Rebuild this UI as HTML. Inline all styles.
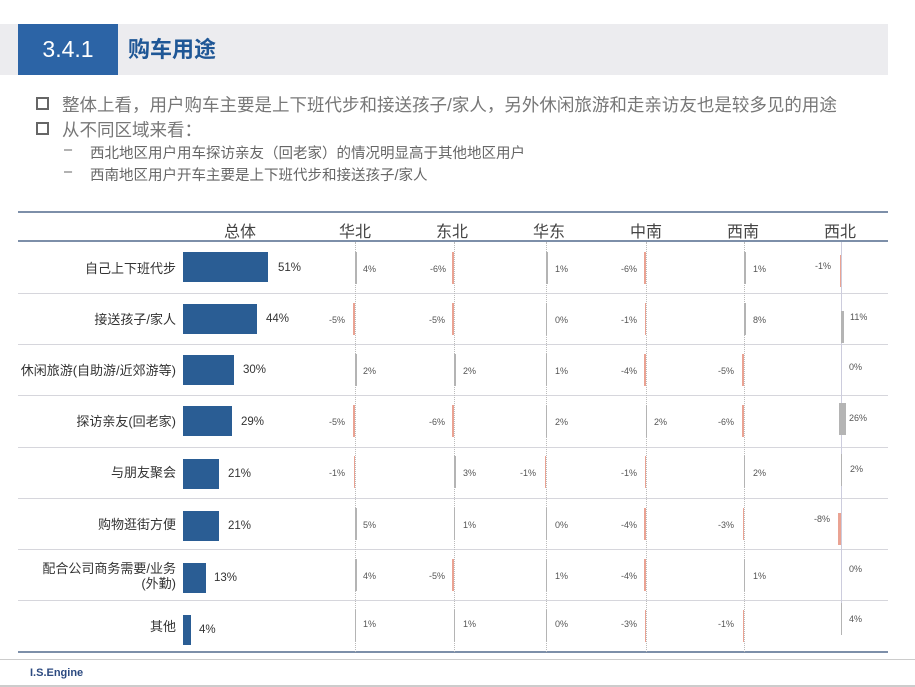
<!DOCTYPE html>
<html><head><meta charset="utf-8"><style>
body{margin:0;width:915px;height:687px;background:#fff;position:relative;overflow:hidden;font-family:"Liberation Sans","Noto Sans CJK SC",sans-serif}
div,i,s,u,b{position:absolute;display:block;text-decoration:none;font-style:normal}
.hl{left:18px;width:870px;height:1px;background:#d6d6dc}
.ax{top:242px;height:410px;width:0;border-left:1px dotted #bbb}
.lab{left:0;width:176px;text-align:right;font-size:13px;color:#333;line-height:15px}
.mb{left:183px;height:30px;background:#2a5d94}
.mv{font-size:11.5px;color:#333}
i{height:32px}
i.g{background:#b4b4b4}
i.r{background:#eaa393}
s,u{font-size:9px;color:#555;line-height:10px}
u{width:40px;text-align:right}
.ch{top:218px;font-size:16px;color:#444;width:60px;text-align:center}
</style></head><body>
<div style="left:0;top:24px;width:888px;height:51px;background:#ececef"></div>
<div style="left:18px;top:24px;width:100px;height:51px;background:#2c64a6;color:#fff;font-size:23px;line-height:51px;text-align:center">3.4.1</div>
<div style="left:128px;top:24px;line-height:51px;font-size:22px;color:#1f5796;font-weight:bold">购车用途</div>
<div style="left:36px;top:97px;width:9px;height:9px;border:2px solid #666"></div>
<div style="left:62px;top:92px;font-size:17.5px;color:#777;white-space:nowrap">整体上看，用户购车主要是上下班代步和接送孩子/家人，另外休闲旅游和走亲访友也是较多见的用途</div>
<div style="left:36px;top:122px;width:9px;height:9px;border:2px solid #666"></div>
<div style="left:62px;top:117px;font-size:17.5px;color:#777">从不同区域来看：</div>
<div style="left:64px;top:142px;font-size:14.5px;color:#666">–</div>
<div style="left:90px;top:142px;font-size:14.5px;color:#666;white-space:nowrap">西北地区用户用车探访亲友（回老家）的情况明显高于其他地区用户</div>
<div style="left:64px;top:164px;font-size:14.5px;color:#666">–</div>
<div style="left:90px;top:164px;font-size:14.5px;color:#666;white-space:nowrap">西南地区用户开车主要是上下班代步和接送孩子/家人</div>

<div style="left:18px;top:211px;width:870px;height:2px;background:#7d8fa9"></div>
<div style="left:18px;top:240px;width:870px;height:2px;background:#7d8fa9"></div>
<div style="left:18px;top:651px;width:870px;height:2px;background:#7d8fa9"></div>
<div style="left:0;top:659px;width:915px;height:1px;background:#ccc"></div>
<div style="left:30px;top:667px;font-size:11px;color:#2c4a80;font-weight:bold">I.S.Engine</div>
<div style="left:0;top:685px;width:915px;height:2px;background:#ccc"></div>

<div class="ch" style="left:210px">总体</div>
<div class="ch" style="left:325px">华北</div>
<div class="ch" style="left:422px">东北</div>
<div class="ch" style="left:519px">华东</div>
<div class="ch" style="left:616px">中南</div>
<div class="ch" style="left:713px">西南</div>
<div class="ch" style="left:810px">西北</div>

<div class="hl" style="top:293px"></div><div class="hl" style="top:344px"></div><div class="hl" style="top:395px"></div><div class="hl" style="top:447px"></div><div class="hl" style="top:498px"></div><div class="hl" style="top:549px"></div><div class="hl" style="top:600px"></div>

<div class="ax" style="left:355px"></div><div class="ax" style="left:454px"></div><div class="ax" style="left:546px"></div><div class="ax" style="left:646px"></div><div class="ax" style="left:744px"></div>
<div style="left:841px;top:242px;height:380px;width:1px;background:#ccd"></div>

<div class="lab" style="top:261px">自己上下班代步</div>
<div class="lab" style="top:312px">接送孩子/家人</div>
<div class="lab" style="top:363px">休闲旅游(自助游/近郊游等)</div>
<div class="lab" style="top:414px">探访亲友(回老家)</div>
<div class="lab" style="top:465px">与朋友聚会</div>
<div class="lab" style="top:517px">购物逛街方便</div>
<div class="lab" style="top:561px">配合公司商务需要/业务<br>(外勤)</div>
<div class="lab" style="top:619px">其他</div>

<div class="mb" style="top:252px;width:85px"></div><div class="mv" style="left:278px;top:262px">51%</div>
<div class="mb" style="top:304px;width:74px"></div><div class="mv" style="left:266px;top:313px">44%</div>
<div class="mb" style="top:355px;width:51px"></div><div class="mv" style="left:243px;top:364px">30%</div>
<div class="mb" style="top:406px;width:49px"></div><div class="mv" style="left:241px;top:416px">29%</div>
<div class="mb" style="top:459px;width:36px"></div><div class="mv" style="left:228px;top:468px">21%</div>
<div class="mb" style="top:511px;width:36px"></div><div class="mv" style="left:228px;top:520px">21%</div>
<div class="mb" style="top:563px;width:23px"></div><div class="mv" style="left:214px;top:572px">13%</div>
<div class="mb" style="top:615px;width:8px"></div><div class="mv" style="left:199px;top:624px">4%</div>

<i class="g" style="left:355px;top:252px;width:2px"></i><s style="left:363px;top:264px">4%</s>
<i class="r" style="left:452px;top:252px;width:2px"></i><u style="left:406px;top:264px">-6%</u>
<i class="g" style="left:546px;top:252px;width:2px"></i><s style="left:555px;top:264px">1%</s>
<i class="r" style="left:644px;top:252px;width:2px"></i><u style="left:597px;top:264px">-6%</u>
<i class="g" style="left:744px;top:252px;width:2px"></i><s style="left:753px;top:264px">1%</s>
<i class="r" style="left:840px;top:255px;width:1px"></i><u style="left:791px;top:261px">-1%</u>

<i class="r" style="left:353px;top:303px;width:2px"></i><u style="left:305px;top:315px">-5%</u>
<i class="r" style="left:452px;top:303px;width:2px"></i><u style="left:405px;top:315px">-5%</u>
<i class="g" style="left:546px;top:303px;width:1px"></i><s style="left:555px;top:315px">0%</s>
<i class="r" style="left:645px;top:303px;width:1px"></i><u style="left:597px;top:315px">-1%</u>
<i class="g" style="left:744px;top:303px;width:2px"></i><s style="left:753px;top:315px">8%</s>
<i class="g" style="left:841px;top:311px;width:3px;height:32px"></i><s style="left:850px;top:312px">11%</s>

<i class="g" style="left:355px;top:354px;width:2px"></i><s style="left:363px;top:366px">2%</s>
<i class="g" style="left:454px;top:354px;width:2px"></i><s style="left:463px;top:366px">2%</s>
<i class="g" style="left:546px;top:354px;width:1px"></i><s style="left:555px;top:366px">1%</s>
<i class="r" style="left:644px;top:354px;width:2px"></i><u style="left:597px;top:366px">-4%</u>
<i class="r" style="left:742px;top:354px;width:2px"></i><u style="left:694px;top:366px">-5%</u>
<s style="left:849px;top:362px">0%</s>

<i class="r" style="left:353px;top:405px;width:2px"></i><u style="left:305px;top:417px">-5%</u>
<i class="r" style="left:452px;top:405px;width:2px"></i><u style="left:405px;top:417px">-6%</u>
<i class="g" style="left:546px;top:405px;width:1px"></i><s style="left:555px;top:417px">2%</s>
<i class="g" style="left:646px;top:405px;width:1px"></i><s style="left:654px;top:417px">2%</s>
<i class="r" style="left:742px;top:405px;width:2px"></i><u style="left:694px;top:417px">-6%</u>
<i class="g" style="left:839px;top:403px;width:7px;height:32px"></i><s style="left:849px;top:413px">26%</s>

<i class="r" style="left:354px;top:456px;width:1px"></i><u style="left:305px;top:468px">-1%</u>
<i class="g" style="left:454px;top:456px;width:2px"></i><s style="left:463px;top:468px">3%</s>
<i class="r" style="left:545px;top:456px;width:1px"></i><u style="left:496px;top:468px">-1%</u>
<i class="r" style="left:645px;top:456px;width:1px"></i><u style="left:597px;top:468px">-1%</u>
<i class="g" style="left:744px;top:456px;width:1px"></i><s style="left:753px;top:468px">2%</s>
<i class="g" style="left:841px;top:454px;width:1px"></i><s style="left:850px;top:464px">2%</s>

<i class="g" style="left:355px;top:508px;width:2px"></i><s style="left:363px;top:520px">5%</s>
<i class="g" style="left:454px;top:508px;width:1px"></i><s style="left:463px;top:520px">1%</s>
<i class="g" style="left:546px;top:508px;width:1px"></i><s style="left:555px;top:520px">0%</s>
<i class="r" style="left:644px;top:508px;width:2px"></i><u style="left:597px;top:520px">-4%</u>
<i class="r" style="left:743px;top:508px;width:1px"></i><u style="left:694px;top:520px">-3%</u>
<i class="r" style="left:838px;top:513px;width:3px;height:32px"></i><u style="left:790px;top:514px">-8%</u>

<i class="g" style="left:355px;top:559px;width:2px"></i><s style="left:363px;top:571px">4%</s>
<i class="r" style="left:452px;top:559px;width:2px"></i><u style="left:405px;top:571px">-5%</u>
<i class="g" style="left:546px;top:559px;width:1px"></i><s style="left:555px;top:571px">1%</s>
<i class="r" style="left:644px;top:559px;width:2px"></i><u style="left:597px;top:571px">-4%</u>
<i class="g" style="left:744px;top:559px;width:1px"></i><s style="left:753px;top:571px">1%</s>
<s style="left:849px;top:564px">0%</s>

<i class="g" style="left:355px;top:610px;width:1px"></i><s style="left:363px;top:619px">1%</s>
<i class="g" style="left:454px;top:610px;width:1px"></i><s style="left:463px;top:619px">1%</s>
<i class="g" style="left:546px;top:610px;width:1px"></i><s style="left:555px;top:619px">0%</s>
<i class="r" style="left:645px;top:610px;width:1px"></i><u style="left:597px;top:619px">-3%</u>
<i class="r" style="left:743px;top:610px;width:1px"></i><u style="left:694px;top:619px">-1%</u>
<i class="g" style="left:841px;top:603px;width:1px"></i><s style="left:849px;top:614px">4%</s>
</body></html>
